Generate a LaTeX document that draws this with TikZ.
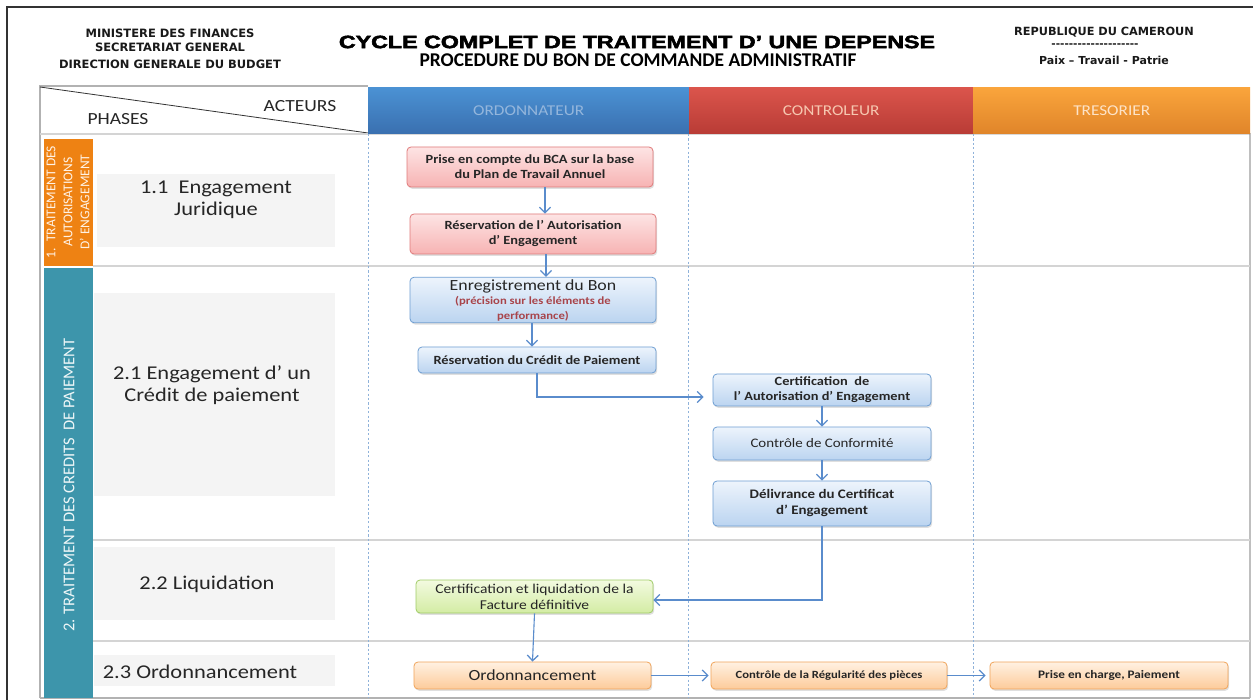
\documentclass[tikz,border=0pt]{standalone}
\usepackage{fontspec}
\setmainfont{Carlito}[FakeStretch=1.15]
\newfontfamily\plainfont{Carlito}
\newfontfamily\narrowfont{Carlito}[FakeStretch=1.0]
\newfontfamily\titlefont{Liberation Sans Bold}[FakeBold=2.5]
\newfontfamily\hdrfont{DejaVu Sans}
\usetikzlibrary{arrows.meta,shadows}
\definecolor{arrblue}{HTML}{5A8CCC}
\definecolor{dashblue}{HTML}{8FB2DA}
\definecolor{rowgray}{HTML}{D4D4D4}
\definecolor{phasegray}{HTML}{F4F4F4}
\definecolor{orangebar}{HTML}{EE8213}
\definecolor{tealbar}{HTML}{3D95AB}
\definecolor{ordtop}{HTML}{4B92D4}
\definecolor{ordbot}{HTML}{3A70B0}
\definecolor{ordtext}{HTML}{94B6DC}
\definecolor{contop}{HTML}{DB554C}
\definecolor{conbot}{HTML}{B93C36}
\definecolor{context}{HTML}{F6C7B0}
\definecolor{tretop}{HTML}{FAA53C}
\definecolor{trebot}{HTML}{E0852A}
\definecolor{tretext}{HTML}{FDE3C8}
\definecolor{redtop}{HTML}{FDE4E4}
\definecolor{redbot}{HTML}{F7B3B3}
\definecolor{redline}{HTML}{E07A7A}
\definecolor{bluetop}{HTML}{EDF4FC}
\definecolor{bluebot}{HTML}{BBD4F0}
\definecolor{blueline}{HTML}{6E9ED2}
\definecolor{greentop}{HTML}{F3FAE0}
\definecolor{greenbot}{HTML}{D3ECA4}
\definecolor{greenline}{HTML}{A0CC66}
\definecolor{orgtop}{HTML}{FFF1E2}
\definecolor{orgbot}{HTML}{FDCB9A}
\definecolor{orgline}{HTML}{F0A45A}
\definecolor{subred}{HTML}{A8444A}
\begin{document}
\begin{tikzpicture}[x=1pt,y=-1pt,
  arr/.style={draw=arrblue,line width=1.1pt,-{Straight Barb[length=5.5pt,width=11pt,line width=1.3pt]}},
  colline/.style={draw=dashblue,line width=1pt,dash pattern=on 2.2pt off 2.2pt},
  rowline/.style={draw=rowgray,line width=1.5pt},
  phasetext/.style={font=\fontsize{19.5}{22}\selectfont,align=center,text=black!85},
  colhead/.style={draw=none,minimum height=46pt,font=\fontsize{15}{17}\selectfont,
    drop shadow={opacity=0.3,shadow xshift=0pt,shadow yshift=-2pt}},
  stepnode/.style={rounded corners=4pt,line width=0.8pt,align=center,inner sep=2pt,
    font=\bfseries\fontsize{12.5}{15}\selectfont,text=black!85,
    drop shadow={opacity=0.25,shadow xshift=1.2pt,shadow yshift=-1.8pt}},
  rednode/.style={stepnode,draw=redline,top color=redtop,bottom color=redbot},
  bluenode/.style={stepnode,draw=blueline,top color=bluetop,bottom color=bluebot},
  greennode/.style={stepnode,draw=greenline,top color=greentop,bottom color=greenbot},
  orgnode/.style={stepnode,draw=orgline,top color=orgtop,bottom color=orgbot},
  hdr/.style={font=\hdrfont\bfseries\fontsize{11.5}{13}\selectfont,align=center,inner sep=0pt,text=black!90}
]
\useasboundingbox[fill=white] (0,0) rectangle (1253,700);
% outer frame lines
\draw[line width=1.2pt,black!80] (7,700) -- (7,7) -- (1253,7);

% header texts
\node[hdr] (m1) at (170,33) {MINISTERE DES FINANCES};
\node[hdr] (m2) at (170,47) {SECRETARIAT GENERAL};
\node[hdr] (m3) at (170,64) {DIRECTION GENERALE DU BUDGET};
\node[inner sep=0pt] (title) at (637,42) {\resizebox{596pt}{12.5pt}{\titlefont CYCLE COMPLET DE TRAITEMENT D’ UNE DEPENSE}};
\node[inner sep=0pt] (subtitle) at (638,60) {\resizebox{437pt}{!}{\plainfont\bfseries PROCEDURE DU BON DE COMMANDE ADMINISTRATIF}};
\node[hdr,font=\hdrfont\bfseries\fontsize{11.3}{13}\selectfont] (r1) at (1104,32) {REPUBLIQUE DU CAMEROUN};
\node[hdr,font=\hdrfont\bfseries\fontsize{10.5}{10}\selectfont] (r2) at (1095,46) {-{}-{}-{}-{}-{}-{}-{}-{}-{}-{}-{}-{}-{}-{}-{}-{}-{}-{}-{}-{}};
\node[hdr,font=\hdrfont\bfseries\fontsize{11}{13}\selectfont] (r3) at (1104,60) {Paix – Travail - Patrie};

% table frame
\draw[draw=black!30,line width=1.5pt] (40,698) -- (40,86) -- (368,86);
\draw[draw=black!25,line width=1.5pt] (1250,133) -- (1250,698);
\draw[draw=black!30,line width=1.5pt] (40,698) -- (1250,698);
\draw[line width=0.8pt,black!80] (40,87) -- (368,133);
\node[font=\fontsize{17}{20}\selectfont,text=black!85] (acteurs) at (300,106) {ACTEURS};
\node[font=\fontsize{17}{20}\selectfont,text=black!85] (phases) at (118,119) {PHASES};

% column headers
\node[colhead,top color=ordtop,bottom color=ordbot,minimum width=321pt,text=ordtext,anchor=north west] (hord) at (368,87) {ORDONNATEUR};
\node[colhead,top color=contop,bottom color=conbot,minimum width=284pt,text=context,anchor=north west] (hcon) at (689,87) {CONTROLEUR};
\node[colhead,top color=tretop,bottom color=trebot,minimum width=277pt,text=tretext,anchor=north west] (htre) at (973,87) {TRESORIER};

% row lines
\draw[rowline] (40,134) -- (368,134);
\draw[rowline] (93,266) -- (1250,266);
\draw[rowline] (93,540) -- (1250,540);
\draw[rowline] (93,641) -- (1250,641);

% column dashed lines
\draw[colline] (368,134) -- (368,698);
\draw[colline] (688,134) -- (688,698);
\draw[colline] (973,134) -- (973,698);

% left bars
\fill[orangebar] (44,139) rectangle (93,266);
\fill[tealbar] (44,268) rectangle (93,698);
\node[rotate=90,align=center,text=white!90!orange,font=\narrowfont\fontsize{13.5}{17}\selectfont,inner sep=0pt] (bar1) at (68,202) {1.\ \ TRAITEMENT DES\\AUTORISATIONS\\D’ ENGAGEMENT};
\node[rotate=90,text=white!92!tealbar,font=\plainfont\fontsize{16.5}{19}\selectfont,inner sep=0pt] (bar2) at (69,485) {2. TRAITEMENT DES CREDITS\ \ DE PAIEMENT};

% phase boxes
\fill[phasegray] (97,174) rectangle (335,247);
\fill[phasegray] (94,293) rectangle (335,496);
\fill[phasegray] (94,547) rectangle (335,620);
\fill[phasegray] (94,655) rectangle (335,686);
\node[phasetext] (p11) at (216,200) {1.1\ \ Engagement\\Juridique};
\node[phasetext] (p21) at (212,385) {2.1 Engagement d’ un\\Crédit de paiement};
\node[phasetext] (p22) at (207,584) {2.2 Liquidation};
\node[phasetext] (p23) at (200,672) {2.3 Ordonnancement};

% step nodes
\node[rednode,minimum width=246pt,minimum height=40pt] (n1) at (530,167) {Prise en compte du BCA sur la base\\du Plan de Travail Annuel};
\node[rednode,minimum width=246pt,minimum height=40pt] (n2) at (533,234) {Réservation de l’ Autorisation\\d’ Engagement};
\node[bluenode,minimum width=246pt,minimum height=40pt,font=\fontsize{15.5}{15}\selectfont] (n3) at (533,300) {Enregistrement du Bon\\[-1pt]{\color{subred}\bfseries\fontsize{11}{11.5}\selectfont (précision sur les éléments de}\\{\color{subred}\bfseries\fontsize{11}{11.5}\selectfont performance)}};
\node[bluenode,minimum width=238pt,minimum height=26pt] (n4) at (537,360) {Réservation du Crédit de Paiement};
\node[bluenode,minimum width=218pt,minimum height=32pt] (n5) at (822,390) {Certification\ \ de\\l’ Autorisation d’ Engagement};
\node[bluenode,minimum width=218pt,minimum height=33pt,font=\fontsize{13}{15}\selectfont] (n6) at (822,443.5) {Contrôle de Conformité};
\node[bluenode,minimum width=218pt,minimum height=45pt,font=\bfseries\fontsize{13}{16}\selectfont] (n7) at (822,503.5) {Délivrance du Certificat\\d’ Engagement};
\node[greennode,minimum width=237pt,minimum height=33pt,font=\fontsize{13.5}{16}\selectfont] (n8) at (534.5,596.5) {Certification et liquidation de la\\Facture définitive};
\node[orgnode,minimum width=237pt,minimum height=27pt,font=\fontsize{15.5}{17}\selectfont] (n9) at (532.5,675.5) {Ordonnancement};
\node[orgnode,minimum width=236pt,minimum height=27pt,font=\bfseries\fontsize{11}{13}\selectfont] (n10) at (829,675.5) {Contrôle de la Régularité des pièces};
\node[orgnode,minimum width=238pt,minimum height=27pt,font=\bfseries\fontsize{11.5}{13}\selectfont] (n11) at (1109,675.5) {Prise en charge, Paiement};

% connectors
\draw[arr] ([xshift=15pt]n1.south) -- ([xshift=12pt]n2.north);
\draw[arr] ([xshift=13pt]n2.south) -- ([xshift=13pt]n3.north);
\draw[arr] ([xshift=-1pt]n3.south) -- ([xshift=-5pt]n4.north);
\draw[arr,shorten >=9pt] (n4.south) |- ([yshift=-7pt]n5.west);
\draw[arr] (n5.south) -- (n6.north);
\draw[arr] (n6.south) -- (n7.north);
\draw[arr] (n7.south) |- ([yshift=-3.5pt]n8.east);
\draw[arr] (n8.south) -- (n9.north);
\draw[arr,shorten >=2pt] (n9.east) -- (n10.west);
\draw[arr,shorten >=4pt] (n10.east) -- (n11.west);
\end{tikzpicture}
\end{document}
